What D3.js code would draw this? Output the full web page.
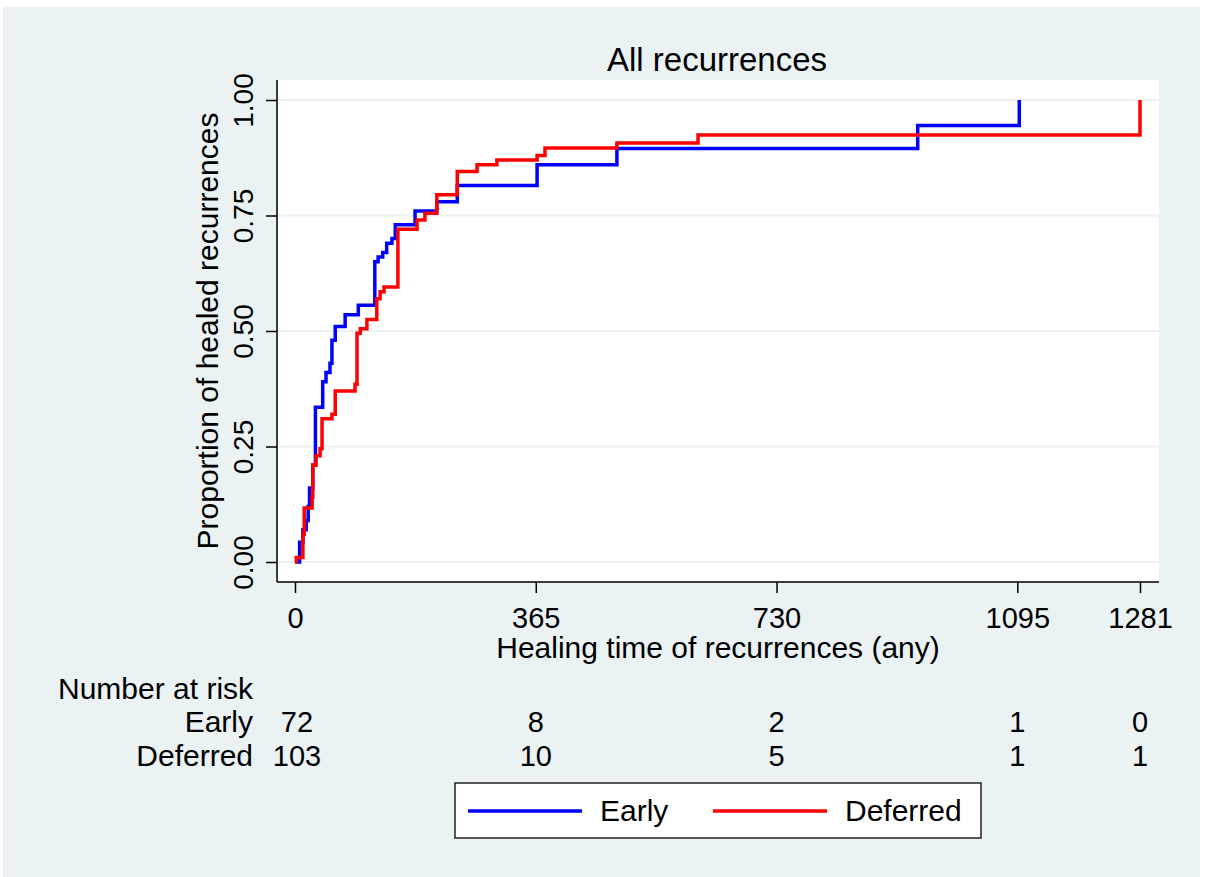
<!DOCTYPE html>
<html>
<head>
<meta charset="utf-8">
<script src="https://cdn.jsdelivr.net/npm/d3@7"></script>
<style>
  body { margin: 0; background: #fff; }
  svg text { font-family: "Liberation Sans", Arial, sans-serif; fill: #000; }
</style>
</head>
<body>
<div id="chart"></div>
<script>
// Kaplan-Meier failure curves (days, proportion healed)
var earlyTimes = [0, 7, 12, 17, 20, 22, 27, 31, 42, 47, 53, 56, 61, 76, 96, 121, 126, 133, 139, 147, 152, 182, 215, 246, 367, 488, 944, 1098];
var earlyProp  = [0, 0.043, 0.07, 0.09, 0.12, 0.16, 0.21, 0.335, 0.39, 0.41, 0.43, 0.48, 0.51, 0.535, 0.556, 0.65, 0.66, 0.67, 0.69, 0.70, 0.73, 0.76, 0.78, 0.815, 0.86, 0.895, 0.945, 1.0];

var deferredTimes = [0, 2, 12, 14, 26, 27, 32, 38, 41, 56, 61, 91, 94, 99, 109, 124, 129, 135, 156, 185, 197, 215, 246, 276, 306, 367, 379, 488, 611, 1281];
var deferredProp  = [0, 0.01, 0.06, 0.117, 0.14, 0.21, 0.23, 0.245, 0.31, 0.32, 0.37, 0.385, 0.495, 0.505, 0.525, 0.57, 0.585, 0.595, 0.72, 0.74, 0.755, 0.795, 0.845, 0.86, 0.87, 0.88, 0.896, 0.907, 0.924, 1.0];

var xTicks = [0, 365, 730, 1095, 1281];
var yTicks = [0, 0.25, 0.5, 0.75, 1];

var riskGroups = ["Early", "Deferred"];
var earlyRisk = [72, 8, 2, 1, 0];
var deferredRisk = [103, 10, 5, 1, 1];
var groupColors = ["#0000ff", "#ff0000"];

var width = 1205,
	height = 877;

var svg = d3.select("#chart").append("svg")
	.attr("width", width)
	.attr("height", height);

// graph region
svg.append("rect")
	.attr("x", 3).attr("y", 7)
	.attr("width", 1197).attr("height", 870)
	.attr("fill", "#eaf2f3");

var x = d3.scaleLinear().domain([0, 1281]).range([295, 1140]);
var y = d3.scaleLinear().domain([0, 1]).range([562, 100]);

// plot region
svg.append("rect")
	.attr("x", 278).attr("y", 80)
	.attr("width", 881).attr("height", 501)
	.attr("fill", "#fff");

// grid
svg.selectAll(".grid")
	.data(yTicks)
	.enter().append("line")
	.attr("class", "grid")
	.attr("x1", 278).attr("x2", 1159)
	.attr("y1", function(d) { return y(d); })
	.attr("y2", function(d) { return y(d); })
	.attr("stroke", "#eaf2f3")
	.attr("stroke-width", 2);

// y axis
var yAxis = svg.append("g")
	.attr("transform", "translate(277,0)")
	.call(d3.axisLeft(y).tickValues(yTicks).tickFormat(d3.format(".2f")).tickSize(11).tickSizeOuter(0));
yAxis.select(".domain").remove();
yAxis.append("line")
	.attr("x1", 0).attr("x2", 0).attr("y1", 80).attr("y2", 582)
	.attr("stroke", "#000").attr("stroke-width", 1.5);
yAxis.selectAll(".tick line").attr("stroke-width", 1.5);
yAxis.selectAll(".tick text")
	.attr("x", null).attr("dy", null)
	.attr("transform", "translate(-24,0) rotate(-90)")
	.attr("text-anchor", "middle")
	.style("font-size", "28px")
	.style("font-family", "'Liberation Sans', Arial, sans-serif");

// x axis
var xAxis = svg.append("g")
	.attr("transform", "translate(0,582)")
	.call(d3.axisBottom(x).tickValues(xTicks).tickFormat(d3.format("d")).tickSize(11).tickSizeOuter(0));
xAxis.select(".domain").remove();
xAxis.append("line")
	.attr("x1", 277).attr("x2", 1159).attr("y1", 0).attr("y2", 0)
	.attr("stroke", "#000").attr("stroke-width", 1.5);
xAxis.selectAll(".tick line").attr("stroke-width", 1.5);
xAxis.selectAll(".tick text")
	.attr("y", 46).attr("dy", null)
	.style("font-size", "29px")
	.style("font-family", "'Liberation Sans', Arial, sans-serif");

// titles
svg.append("text")
	.attr("x", 717).attr("y", 71)
	.attr("text-anchor", "middle")
	.style("font-size", "33px")
	.text("All recurrences");

svg.append("text")
	.attr("transform", "translate(218,331) rotate(-90)")
	.attr("text-anchor", "middle")
	.style("font-size", "30px")
	.text("Proportion of healed recurrences");

svg.append("text")
	.attr("x", 718).attr("y", 658)
	.attr("text-anchor", "middle")
	.style("font-size", "30px")
	.text("Healing time of recurrences (any)");

// curves
var line = d3.line()
	.x(function(d) { return x(d[0]); })
	.y(function(d) { return y(d[1]); })
	.curve(d3.curveStepAfter);

var series = [d3.zip(earlyTimes, earlyProp), d3.zip(deferredTimes, deferredProp)];

svg.selectAll(".km")
	.data(series)
	.enter().append("path")
	.attr("class", "km")
	.attr("d", line)
	.attr("fill", "none")
	.attr("stroke", function(d, i) { return groupColors[i]; })
	.attr("stroke-width", 3.5)
	.attr("stroke-linejoin", "miter");

// number at risk table
svg.append("text")
	.attr("x", 58).attr("y", 699)
	.style("font-size", "30px")
	.text("Number at risk");

var riskRows = [earlyRisk, deferredRisk];
riskRows.forEach(function(row, i) {
	var ry = 732 + i * 34;
	svg.append("text")
		.attr("x", 253).attr("y", ry)
		.attr("text-anchor", "end")
		.style("font-size", "30px")
		.text(riskGroups[i]);
	svg.selectAll(".risk" + i)
		.data(row)
		.enter().append("text")
		.attr("class", "risk" + i)
		.attr("x", function(d, j) { return x(xTicks[j]) + (j == 0 ? 2 : 0); })
		.attr("y", ry)
		.attr("text-anchor", "middle")
		.style("font-size", "29px")
		.text(function(d) { return d; });
});

// legend
var legend = svg.append("g");
legend.append("rect")
	.attr("x", 455).attr("y", 783)
	.attr("width", 526).attr("height", 55)
	.attr("fill", "#fff")
	.attr("stroke", "#222")
	.attr("stroke-width", 1.5);

var legendX = [468, 713];
riskGroups.forEach(function(g, i) {
	legend.append("line")
		.attr("x1", legendX[i]).attr("x2", legendX[i] + 114)
		.attr("y1", 811).attr("y2", 811)
		.attr("stroke", groupColors[i])
		.attr("stroke-width", 3.5);
	legend.append("text")
		.attr("x", legendX[i] + 132).attr("y", 821)
		.style("font-size", "30px")
		.text(g);
});
</script>
</body>
</html>
